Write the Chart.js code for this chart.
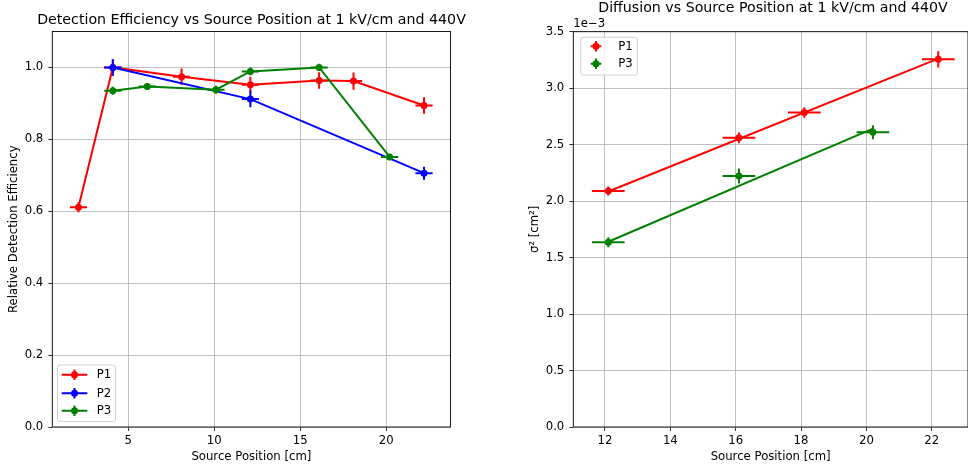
<!DOCTYPE html>
<html>
<head>
<meta charset="utf-8">
<script src="https://cdn.jsdelivr.net/npm/chart.js@4.4.0/dist/chart.umd.min.js"></script>
<style>
  html, body { margin: 0; padding: 0; background: #fff; }
  #wrap { position: relative; width: 968px; height: 470px; overflow: hidden; }
  .box { position: absolute; top: 0; width: 484px; height: 470px; }
</style>
</head>
<body>
<div id="wrap">
  <div class="box" style="left:0"><canvas id="eff" width="484" height="470"></canvas></div>
  <div class="box" style="left:484px"><canvas id="diff" width="484" height="470"></canvas></div>
</div>
<script>
// efficiency vs source position (left)
const effPosP1 = [2.1, 4.1, 8.1, 12.1, 16.1, 18.1, 22.2];
const effP1 = [0.611, 1.0, 0.974, 0.952, 0.964, 0.962, 0.894];
const effErrP1 = [0.014, 0.023, 0.023, 0.022, 0.023, 0.024, 0.023];
const effPosP2 = [4.1, 12.1, 22.2];
const effP2 = [1.0, 0.912, 0.706];
const effErrP2 = [0.023, 0.023, 0.018];
const effPosP3 = [4.1, 6.1, 10.1, 12.1, 16.1, 20.2];
const effP3 = [0.935, 0.947, 0.938, 0.989, 1.0, 0.751];
const effErrP3 = [0.011, 0.01, 0.011, 0.011, 0.01, 0.009];

// diffusion sigma^2 in units of 1e-3 cm^2 (right)
const diffPosP1 = [12.1, 16.1, 18.1, 22.2];
const diffP1 = [2.09, 2.56, 2.785, 3.255];
const diffErrP1 = [0.04, 0.047, 0.047, 0.072];
const fitP1 = [2.085, 3.262];
const diffPosP3 = [12.1, 16.1, 20.2];
const diffP3 = [1.635, 2.222, 2.61];
const diffErrP3 = [0.044, 0.066, 0.062];
const fitP3 = [1.64, 2.642];

const posErr = 0.5;
const FONT = 'DejaVu Sans';
const TICK_SIZE = 11.7;
const TITLE_SIZE = 14.2;

function pts(xs, ys) { return xs.map((x, i) => ({ x: x, y: ys[i] })); }
function fill(n, v) { return new Array(n).fill(v); }

const errorBars = {
  id: 'errorBars',
  beforeDatasetDraw(chart, args) {
    const ds = chart.data.datasets[args.index];
    if (!ds.yErr) return;
    const xs = chart.scales.x, ys = chart.scales.y, ctx = chart.ctx;
    ctx.save();
    ctx.strokeStyle = ds.borderColor;
    ctx.lineWidth = 2;
    ds.data.forEach((p, i) => {
      const px = xs.getPixelForValue(p.x), py = ys.getPixelForValue(p.y);
      ctx.beginPath();
      ctx.moveTo(xs.getPixelForValue(p.x - ds.xErr[i]), py);
      ctx.lineTo(xs.getPixelForValue(p.x + ds.xErr[i]), py);
      ctx.moveTo(px, ys.getPixelForValue(p.y - ds.yErr[i]));
      ctx.lineTo(px, ys.getPixelForValue(p.y + ds.yErr[i]));
      ctx.stroke();
    });
    ctx.restore();
  }
};

const decor = {
  id: 'decor',
  afterDatasetsDraw(chart) {
    const ctx = chart.ctx, a = chart.chartArea;
    ctx.save();
    ctx.strokeStyle = '#000';
    ctx.lineWidth = 0.9;
    ctx.strokeRect(a.left, a.top, a.right - a.left, a.bottom - a.top);
    ctx.restore();
  },
  afterDraw(chart, args, o) {
    const ctx = chart.ctx;
    ctx.save();
    ctx.fillStyle = '#000';
    ctx.textAlign = 'center';
    ctx.textBaseline = 'alphabetic';
    ctx.font = TITLE_SIZE + 'px "' + FONT + '"';
    ctx.fillText(o.title, o.titleX, o.titleY);
    if (o.offsetText) {
      ctx.textAlign = 'left';
      ctx.font = TICK_SIZE + 'px "' + FONT + '"';
      ctx.fillText(o.offsetText, chart.chartArea.left, o.offsetY);
    }
    // legend
    const L = o.legend;
    ctx.beginPath();
    ctx.roundRect(L.x, L.y, L.w, L.h, 2.5);
    ctx.fillStyle = 'rgba(255,255,255,0.8)';
    ctx.fill();
    ctx.strokeStyle = '#d0d0d0';
    ctx.lineWidth = 1;
    ctx.stroke();
    const items = chart.data.datasets.filter(d => !d.isFit);
    items.forEach((d, i) => {
      const y = L.rowY[i];
      const mx = L.markerX;
      ctx.strokeStyle = d.borderColor;
      ctx.fillStyle = d.borderColor;
      ctx.lineWidth = 2;
      ctx.beginPath();
      if (d.showLine) {
        ctx.moveTo(mx - 12.8, y);
        ctx.lineTo(mx + 12.8, y);
      } else {
        ctx.moveTo(mx - 5.3, y);
        ctx.lineTo(mx + 5.3, y);
      }
      ctx.moveTo(mx, y - 5.3);
      ctx.lineTo(mx, y + 5.3);
      ctx.stroke();
      ctx.beginPath();
      ctx.arc(mx, y, 3.5, 0, Math.PI * 2);
      ctx.fill();
      ctx.fillStyle = '#000';
      ctx.textAlign = 'left';
      ctx.textBaseline = 'middle';
      ctx.font = TICK_SIZE + 'px "' + FONT + '"';
      ctx.fillText(d.label, L.textX, y + 0.5);
    });
    ctx.restore();
  }
};

function axis(min, max, step, fmt, title, opts) {
  return {
    type: 'linear',
    position: opts.pos,
    min: min,
    max: max,
    ticks: {
      stepSize: step,
      includeBounds: false,
      autoSkip: false,
      maxRotation: 0,
      color: '#000',
      font: { family: FONT, size: TICK_SIZE },
      padding: opts.tickPad,
      callback: v => v.toFixed(fmt)
    },
    grid: { color: '#b0b0b0', lineWidth: 0.8, tickLength: 4, tickColor: '#000', tickWidth: 0.8 },
    border: { display: false },
    title: {
      display: true,
      text: title,
      color: '#000',
      font: { family: FONT, size: TICK_SIZE },
      padding: opts.titlePad
    },
    afterFit: opts.fit
  };
}

function dataset(label, color, xs, ys, yErr, line) {
  return {
    label: label,
    data: pts(xs, ys),
    borderColor: color,
    backgroundColor: color,
    pointBackgroundColor: color,
    pointBorderWidth: 0,
    pointRadius: 3.5,
    borderWidth: 2,
    showLine: line,
    xErr: fill(xs.length, posErr),
    yErr: yErr
  };
}

function fitLine(color, xs, ys) {
  return {
    isFit: true,
    data: pts([xs[0], xs[xs.length - 1]], ys),
    borderColor: color,
    borderWidth: 2,
    pointRadius: 0,
    showLine: true
  };
}

Chart.register(errorBars, decor);

const base = {
  responsive: false,
  animation: false,
  events: [],
  plugins: { legend: { display: false }, tooltip: { enabled: false } }
};

function xFit(s) { s.height = 43; s.paddingLeft = 0; s.paddingRight = 0; }

const effSets = [
  dataset('P1', '#ff0000', effPosP1, effP1, effErrP1, true),
  dataset('P2', '#0000ff', effPosP2, effP2, effErrP2, true),
  dataset('P3', '#008000', effPosP3, effP3, effErrP3, true)
];
effSets.forEach((d, i) => { d.order = 3 - i; });

new Chart(document.getElementById('eff'), {
  type: 'scatter',
  data: { datasets: effSets },
  options: Object.assign({}, base, {
    layout: { autoPadding: false, padding: { top: 31.5, right: 33.5, left: 0, bottom: 0 } },
    scales: {
      x: axis(0.58, 23.74, 5, 0, 'Source Position [cm]', {
        pos: 'bottom', tickPad: 3, titlePad: { top: 0, bottom: 6 }, fit: xFit
      }),
      y: axis(0, 1.1, 0.2, 1, 'Relative Detection Efficiency', {
        pos: 'left', tickPad: 5, titlePad: { top: 6.5, bottom: 0 },
        fit: s => { s.width = 52.3; }
      })
    },
    plugins: Object.assign({}, base.plugins, {
      decor: {
        title: 'Detection Efficiency vs Source Position at 1 kV/cm and 440V',
        titleX: 251.5, titleY: 24,
        legend: { x: 57.5, y: 365, w: 58, h: 56.5, rowY: [374.7, 393.3, 410.8], markerX: 74.5, textX: 96.7 }
      }
    })
  })
});

const diffSets = [
  dataset('P1', '#ff0000', diffPosP1, diffP1, diffErrP1, false),
  fitLine('#ff0000', diffPosP1, fitP1),
  dataset('P3', '#008000', diffPosP3, diffP3, diffErrP3, false),
  fitLine('#008000', diffPosP3, fitP3)
];
diffSets.forEach((d, i) => { d.order = 4 - i; });

new Chart(document.getElementById('diff'), {
  type: 'scatter',
  data: { datasets: diffSets },
  options: Object.assign({}, base, {
    layout: { autoPadding: false, padding: { top: 31.7, right: 0, left: 0, bottom: 0 } },
    scales: {
      x: axis(11.03, 23.11, 2, 0, 'Source Position [cm]', {
        pos: 'bottom', tickPad: 3, titlePad: { top: 0, bottom: 6 }, fit: xFit
      }),
      y: axis(0, 3.5, 0.5, 1, 'σ² [cm²]', {
        pos: 'left', tickPad: 5, titlePad: { top: 44.2, bottom: 0 },
        fit: s => { s.width = 89.3; }
      })
    },
    plugins: Object.assign({}, base.plugins, {
      decor: {
        title: 'Diffusion vs Source Position at 1 kV/cm and 440V',
        titleX: 289, titleY: 12,
        offsetText: '1e\u22123', offsetY: 27,
        legend: { x: 96.7, y: 37.3, w: 56.6, h: 37.7, rowY: [46.3, 63.7], markerX: 112, textX: 134.3 }
      }
    })
  })
});
</script>
</body>
</html>
